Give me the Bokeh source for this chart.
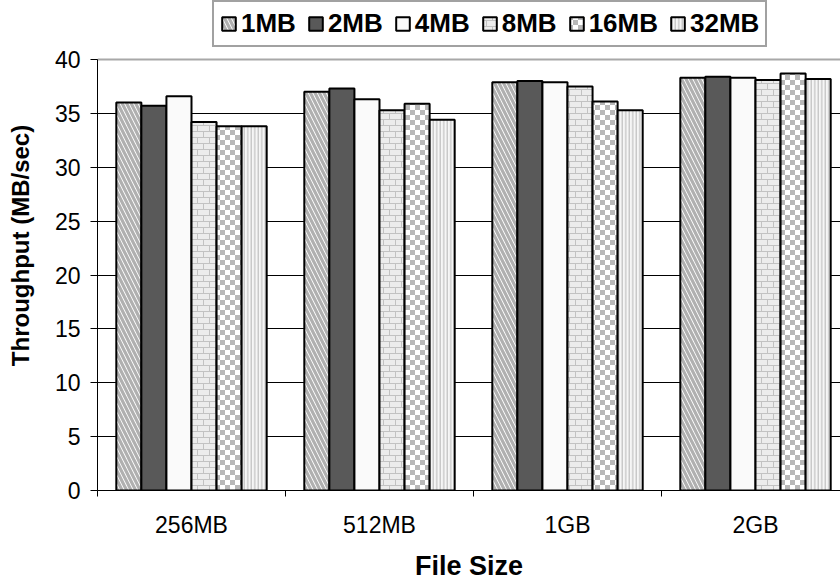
from bokeh.plotting import figure
from bokeh.models import (Range1d, FixedTicker, CustomJSTickFormatter, Legend,
                          LegendItem, Span, CanvasTexture, ColumnDataSource)
from bokeh.core.properties import value
from bokeh.embed import file_html
from bokeh.resources import INLINE

# Throughput (MB/sec) by file size, one series per block size
FILE_SIZES = ["256MB", "512MB", "1GB", "2GB"]
BLOCK_SIZES = ["1MB", "2MB", "4MB", "8MB", "16MB", "32MB"]
tp_1mb = [36.0, 37.0, 37.9, 38.3]
tp_2mb = [35.7, 37.3, 38.0, 38.4]
tp_4mb = [36.6, 36.3, 37.9, 38.3]
tp_8mb = [34.2, 35.3, 37.5, 38.1]
tp_16mb = [33.8, 35.9, 36.1, 38.7]
tp_32mb = [33.8, 34.4, 35.3, 38.2]
SERIES = [tp_1mb, tp_2mb, tp_4mb, tp_8mb, tp_16mb, tp_32mb]
Y_TICKS = [0, 5, 10, 15, 20, 25, 30, 35, 40]
Y_MAX = 40

FONT = "Liberation Sans"
GROUP_SPAN = 0.8                      # share of a category used by its bars
BAR_W = GROUP_SPAN / len(BLOCK_SIZES)
VISIBLE_GROUPS = 743 / 188            # last category runs past the right edge
# the frame reaches the top of the page so the legend can sit above the axis top
Y_VIEW_MAX = Y_MAX * 490 / 431

# --- fill textures: each sizes its own tile canvas --------------------------
brick = CanvasTexture(code="""
var s = 12, h = 6;
ctx.canvas.width = s; ctx.canvas.height = s;
ctx.fillStyle = '#c2c2c2'; ctx.fillRect(0, 0, s, s);
ctx.fillStyle = '#ececec';
ctx.fillRect(0, 0, s - 1, h - 1);
ctx.fillRect(0, h, h - 1, h - 1);
ctx.fillRect(h, h, h, h - 1);
""")
checker = CanvasTexture(code="""
var s = 10, h = 5;
ctx.canvas.width = s; ctx.canvas.height = s;
ctx.fillStyle = '#ffffff'; ctx.fillRect(0, 0, s, s);
ctx.fillStyle = '#b8b8b8';
ctx.fillRect(0, 0, h, h);
ctx.fillRect(h, h, h, h);
""")
TEXTURES = {"brick": brick, "checker": checker}

STYLES = [
    dict(fill_color="#ffffff", hatch_pattern="left_diagonal_line", hatch_scale=9,
         hatch_weight=3.2, hatch_color="#b0b0b0"),
    dict(fill_color="#595959"),
    dict(fill_color="#fafafa"),
    dict(fill_color="#ffffff", hatch_pattern="brick", hatch_scale=12),
    dict(fill_color="#ffffff", hatch_pattern="checker", hatch_scale=10),
    dict(fill_color="#f6f6f6", hatch_pattern="vertical_line", hatch_scale=3.5,
         hatch_weight=1, hatch_color="#b4b4b4"),
]

p = figure(width=840, height=583, output_backend="svg", toolbar_location=None,
           x_range=Range1d(0, VISIBLE_GROUPS), y_range=Range1d(0, Y_VIEW_MAX),
           min_border_left=97, min_border_right=0, min_border_top=0,
           min_border_bottom=93)
p.outline_line_color = None
p.background_fill_color = "#ffffff"

items = []
for j, (name, vals) in enumerate(zip(BLOCK_SIZES, SERIES)):
    xs = [g + (1 - GROUP_SPAN) / 2 + (j + 0.5) * BAR_W for g in range(len(FILE_SIZES))]
    src = ColumnDataSource(dict(x=xs, top=vals))
    style = dict(STYLES[j])
    if "hatch_pattern" in style:
        style["hatch_pattern"] = value(style["hatch_pattern"])
        style["hatch_extra"] = TEXTURES
    r = p.vbar(x="x", top="top", width=BAR_W, bottom=0, source=src,
               line_color="#000000", line_width=2, **style)
    items.append(LegendItem(label=name, renderers=[r]))

# top edge of the value axis
p.add_layout(Span(location=Y_MAX, dimension="width", line_color="#a8a8a8",
                  line_width=2, level="underlay"))

# x axis: labels centred on categories, ticks on category boundaries
xa = p.xaxis[0]
xa.ticker = FixedTicker(ticks=[g + 0.5 for g in range(len(FILE_SIZES))],
                        minor_ticks=list(range(len(FILE_SIZES))))
xa.formatter = CustomJSTickFormatter(args=dict(names=FILE_SIZES),
                                     code="return names[Math.floor(tick)];")
xa.major_tick_out = 0
xa.major_tick_in = 0
xa.minor_tick_out = 6
xa.minor_tick_in = 0
xa.minor_tick_line_color = "#000000"
xa.axis_line_color = "#000000"
xa.major_label_text_font = FONT
xa.major_label_text_font_size = "23px"
xa.major_label_text_color = "#000000"
xa.major_label_standoff = 15
xa.axis_label = "File Size"
xa.axis_label_text_font = FONT
xa.axis_label_text_font_size = "27px"
xa.axis_label_text_font_style = "bold"
xa.axis_label_text_color = "#000000"
xa.axis_label_standoff = 10

ya = p.yaxis[0]
ya.ticker = FixedTicker(ticks=Y_TICKS)
ya.bounds = (0, Y_MAX)
ya.major_tick_out = 7
ya.major_tick_in = 0
ya.minor_tick_out = 0
ya.minor_tick_in = 0
ya.axis_line_color = "#000000"
ya.major_tick_line_color = "#000000"
ya.major_label_text_font = FONT
ya.major_label_text_font_size = "23px"
ya.major_label_text_color = "#000000"
ya.major_label_standoff = 10
ya.axis_label = "Throughput (MB/sec)"
ya.axis_label_text_font = FONT
ya.axis_label_text_font_size = "24px"
ya.axis_label_text_font_style = "bold"
ya.axis_label_text_color = "#000000"
ya.axis_label_standoff = 18

p.xgrid.visible = False
p.ygrid.ticker = FixedTicker(ticks=Y_TICKS)
p.ygrid.grid_line_color = "#000000"
p.ygrid.grid_line_width = 1

legend = Legend(items=items, orientation="horizontal", location=(115, 443),
                margin=0, padding=6, spacing=11, label_standoff=4,
                glyph_width=17, glyph_height=17,
                label_text_font=FONT, label_text_font_size="26px",
                label_text_font_style="bold", label_text_color="#000000",
                border_line_color="#444444", border_line_width=2,
                background_fill_color="#ffffff", background_fill_alpha=1)
p.add_layout(legend, "center")

open("out.html", "w").write(file_html(p, INLINE))
